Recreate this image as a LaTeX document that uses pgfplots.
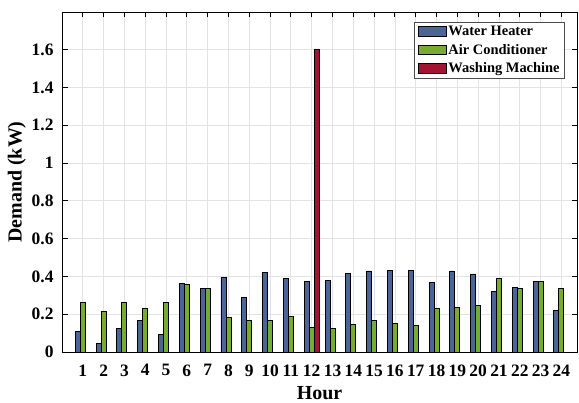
\documentclass[border=0pt]{standalone}
\usepackage{fontspec}
\setmainfont{Liberation Serif}
\usepackage{pgfplots}
\pgfplotsset{compat=1.18}

\definecolor{whblue}{HTML}{4A6598}
\definecolor{acgreen}{HTML}{77AC30}
\definecolor{wmred}{HTML}{A2142F}
\definecolor{gridgray}{HTML}{E3E3E3}

% Hourly demand of each appliance (kW)
\pgfplotstableread{
hour wh ac
1 0.110 0.261
2 0.043 0.213
3 0.126 0.260
4 0.167 0.230
5 0.093 0.260
6 0.363 0.356
7 0.334 0.334
8 0.393 0.183
9 0.290 0.167
10 0.421 0.167
11 0.388 0.189
12 0.375 0.132
13 0.380 0.126
14 0.418 0.148
15 0.429 0.165
16 0.434 0.151
17 0.430 0.139
18 0.370 0.228
19 0.429 0.237
20 0.413 0.247
21 0.322 0.388
22 0.341 0.338
23 0.375 0.372
24 0.222 0.334
}\demand

\begin{document}
\begin{tikzpicture}
\useasboundingbox (0,0) rectangle (579bp,403bp);
\begin{axis}[
  at={(62bp,51bp)}, anchor=south west,
  scale only axis,
  width=515bp, height=340bp,
  ybar=0pt, bar width=0.24,
  xmin=0, xmax=24.75,
  ymin=0, ymax=1.8,
  xtick={1,...,24},
  ytick={0,0.2,0.4,0.6,0.8,1,1.2,1.4,1.6},
  yticklabels={0,0.2,0.4,0.6,0.8,1,1.2,1.4,1.6},
  grid=major,
  grid style={gridgray, line width=0.8bp},
  axis line style={black, line width=0.9bp},
  tick style={black, line width=0.9bp},
  major tick length=5.5bp,
  tick pos=both,
  tick align=inside,
  ticklabel style={font=\fontsize{17.5}{17.5}\selectfont\bfseries},
  /pgf/number format/assume math mode=true,
  xticklabel style={yshift=-9bp},
  yticklabel style={xshift=-5bp},
  xlabel={Hour},
  ylabel={Demand (kW)},
  label style={font=\fontsize{20}{20}\selectfont\bfseries},
  xlabel style={yshift=-3bp},
  ylabel style={yshift=-1bp},
  legend cell align=left,
  legend style={
    at={(1,1)}, anchor=north east, xshift=-12bp, yshift=-10bp,
    font=\fontsize{14.5}{16}\selectfont\bfseries,
    draw=black!70, line width=0.7bp,
    inner xsep=3bp, inner ysep=2bp,
    row sep=3bp,
  },
  legend image code/.code={
    \draw[#1, line width=0.8bp] (0bp,-4.5bp) rectangle (28bp,5bp);
  },
]
\addplot[fill=whblue, draw=black, line width=0.9bp] table[x=hour, y=wh] {\demand};
\addlegendentry{Water Heater}
\addplot[fill=acgreen, draw=black, line width=0.9bp] table[x=hour, y=ac] {\demand};
\addlegendentry{Air Conditioner}
\addplot[fill=wmred, draw=black, line width=0.9bp] coordinates {(12,1.6)};
\addlegendentry{Washing Machine}
\end{axis}
\end{tikzpicture}
\end{document}
